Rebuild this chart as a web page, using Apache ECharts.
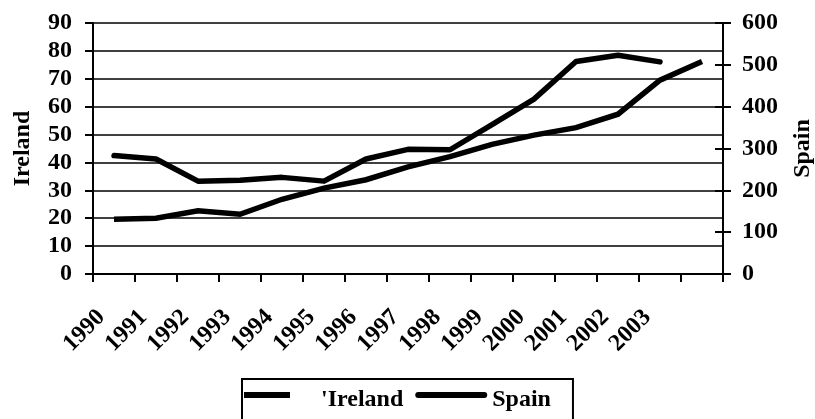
<!DOCTYPE html>
<html>
<head>
<meta charset="utf-8">
<script src="https://cdn.jsdelivr.net/npm/echarts@6/dist/echarts.min.js"></script>
<style>
html,body{margin:0;padding:0;background:#fff;}
#chart{width:815px;height:419px;}
</style>
</head>
<body>
<div id="chart"></div>
<script>
var categories = ['1990','1991','1992','1993','1994','1995','1996','1997','1998','1999','2000','2001','2002','2003',''];
var irelandValues = [19.6, 20.0, 22.7, 21.4, 26.8, 30.8, 33.8, 38.4, 42.1, 46.5, 49.8, 52.5, 57.3, 69.5, 76.2];
var spainValues = [283, 275, 222, 224, 231, 222, 275, 298, 297, 357, 418, 508, 523, 507, null];
var leftTicks = {min: 0, max: 90, interval: 10};
var rightTicks = {min: 0, max: 600, interval: 100};

var FONT = '"Liberation Serif", "Times New Roman", serif';
var txt = {color: '#000', fontFamily: FONT, fontWeight: 'bold', fontSize: 24};

// legend glyphs: bar drawn in the upper part of a 72x16 box
var irelandIcon = 'path://M0 0H46V6H0Z M72 16';
var spainIcon = 'path://M3 0H69A3 3 0 0 1 69 6H3A3 3 0 0 1 3 0Z M0 16 M72 16';

var chart = echarts.init(document.getElementById('chart'), null, {renderer: 'canvas'});
chart.setOption({
  backgroundColor: '#fff',
  animation: false,
  grid: {left: 93, right: 92, top: 23, bottom: 145, containLabel: false, outerBoundsMode: 'none'},
  legend: {
    left: 242, top: 379,
    padding: [9, 22, 40, 2],
    borderColor: '#000', borderWidth: 2,
    itemWidth: 72, itemHeight: 16, itemGap: 12,
    symbolKeepAspect: false,
    selectedMode: false,
    textStyle: txt,
    formatter: function (n) { return n === 'Ireland' ? "'Ireland" : n; },
    data: [
      {name: 'Ireland', icon: irelandIcon, itemStyle: {color: '#000', borderWidth: 0}},
      {name: 'Spain', icon: spainIcon, itemStyle: {color: '#000', borderWidth: 0}}
    ]
  },
  xAxis: {
    type: 'category',
    data: categories,
    boundaryGap: true,
    axisLine: {lineStyle: {color: '#000', width: 2}},
    axisTick: {show: true, length: 8, lineStyle: {color: '#000', width: 2}},
    axisLabel: Object.assign({rotate: 45, margin: 27, interval: 0, padding: [0, 18, 0, 0]}, txt),
    splitLine: {show: false}
  },
  yAxis: [
    {
      type: 'value', position: 'left',
      min: leftTicks.min, max: leftTicks.max, interval: leftTicks.interval,
      name: 'Ireland', nameLocation: 'middle', nameRotate: 90, nameGap: 58,
      nameTextStyle: txt,
      axisLine: {show: true, lineStyle: {color: '#000', width: 2}},
      axisTick: {show: true, length: 8, lineStyle: {color: '#000', width: 2}},
      axisLabel: Object.assign({margin: 21}, txt),
      splitLine: {show: true, lineStyle: {color: '#000', width: 1.5}}
    },
    {
      type: 'value', position: 'right',
      min: rightTicks.min, max: rightTicks.max, interval: rightTicks.interval,
      name: 'Spain', nameLocation: 'middle', nameRotate: 90, nameGap: 68,
      nameTextStyle: txt,
      axisLine: {show: true, lineStyle: {color: '#000', width: 2}},
      axisTick: {show: true, length: 8, lineStyle: {color: '#000', width: 2}},
      axisLabel: Object.assign({margin: 19}, txt),
      splitLine: {show: false}
    },
    {
      type: 'value', position: 'right',
      min: rightTicks.min, max: rightTicks.max, interval: rightTicks.interval,
      axisLine: {show: false},
      axisTick: {show: true, inside: true, length: 8, lineStyle: {color: '#000', width: 2}},
      axisLabel: {show: false},
      splitLine: {show: false}
    }
  ],
  series: [
    {
      name: 'Ireland', type: 'line', yAxisIndex: 0,
      data: irelandValues, symbol: 'none',
      lineStyle: {color: '#000', width: 5.5, type: 'solid', cap: 'butt', join: 'miter'},
      itemStyle: {color: '#000'}
    },
    {
      name: 'Spain', type: 'line', yAxisIndex: 1,
      data: spainValues, symbol: 'none',
      lineStyle: {color: '#000', width: 5.5, type: 'solid', cap: 'round', join: 'round'},
      itemStyle: {color: '#000'}
    }
  ]
});
</script>
</body>
</html>
